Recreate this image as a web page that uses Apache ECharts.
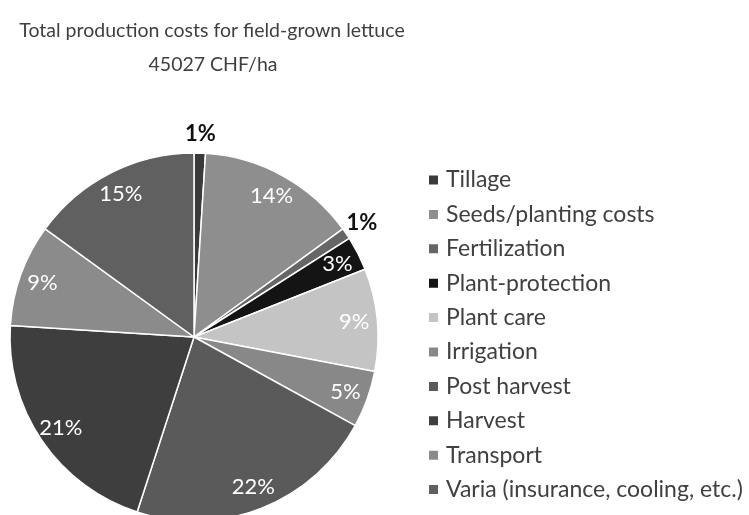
<!DOCTYPE html>
<html>
<head>
<meta charset="utf-8">
<script src="https://cdn.jsdelivr.net/npm/echarts@6/dist/echarts.min.js"></script>
<style>
html,body{margin:0;padding:0;background:#fff;}
#chart{width:749px;height:515px;}
</style>
</head>
<body>
<div id="chart"></div>
<script>
const titleLine1 = 'Total production costs for field-grown lettuce';
const titleLine2 = '45027 CHF/ha';
const categories = ['Tillage','Seeds/planting costs','Fertilization','Plant-protection','Plant care','Irrigation','Post harvest','Harvest','Transport','Varia (insurance, cooling, etc.)'];
const shares = [1, 14, 1, 3, 9, 5, 22, 21, 9, 15];
const sliceColors = ['#3a3a3a','#8e8e8e','#666666','#141414','#c4c4c4','#888888','#5a5a5a','#3e3e3e','#8b8b8b','#606060'];
const outsideLabels = [true, false, true, false, false, false, false, false, false, false];

const FONT = 'Lato, "Open Sans", sans-serif';
const chart = echarts.init(document.getElementById('chart'));

const baseData = categories.map((n, i) => ({ name: n, value: shares[i], itemStyle: { color: sliceColors[i] } }));
const innerLabelData = categories.map((n, i) => ({ name: n, value: shares[i], label: { show: !outsideLabels[i] } }));
const outerLabelData = categories.map((n, i) => ({ name: n, value: shares[i], label: { show: outsideLabels[i] } }));

chart.setOption({
  backgroundColor: '#ffffff',
  animation: false,
  title: [
    { text: titleLine1, left: 207, top: 16, textAlign: 'center',
      textStyle: { fontFamily: FONT, fontSize: 19.5, fontWeight: 'normal', color: '#3f3f3f' } },
    { text: titleLine2, left: 208, top: 50, textAlign: 'center',
      textStyle: { fontFamily: FONT, fontSize: 19.5, fontWeight: 'normal', color: '#3f3f3f' } }
  ],
  legend: {
    orient: 'vertical',
    left: 427,
    top: 168,
    padding: 0,
    data: categories,
    icon: 'rect',
    itemWidth: 11,
    itemHeight: 11,
    itemGap: 10.4,
    selectedMode: false,
    textStyle: { fontFamily: FONT, fontSize: 23, color: '#404040', lineHeight: 24, padding: [0,0,0,2] }
  },
  series: [
    {
      type: 'pie',
      center: [194, 337],
      radius: 184,
      startAngle: 90,
      clockwise: true,
      data: baseData,
      label: { show: false },
      labelLine: { show: false },
      itemStyle: { borderColor: '#ffffff', borderWidth: 1.5 },
      emphasis: { disabled: true }
    },
    {
      type: 'pie',
      center: [194, 337],
      radius: 316,
      startAngle: 90,
      silent: true,
      data: innerLabelData,
      itemStyle: { color: 'rgba(0,0,0,0)' },
      label: { position: 'inside', formatter: '{c}%', color: '#ffffff', fontFamily: FONT, fontSize: 22 },
      labelLine: { show: false },
      emphasis: { disabled: true },
      tooltip: { show: false }
    },
    {
      type: 'pie',
      center: [194, 337],
      radius: 400,
      startAngle: 90,
      silent: true,
      data: outerLabelData,
      itemStyle: { color: 'rgba(0,0,0,0)' },
      label: { position: 'inside', formatter: '{c}%', color: '#111111', fontFamily: FONT, fontSize: 22, fontWeight: 'bold' },
      labelLine: { show: false },
      emphasis: { disabled: true },
      tooltip: { show: false }
    }
  ]
});
</script>
</body>
</html>
